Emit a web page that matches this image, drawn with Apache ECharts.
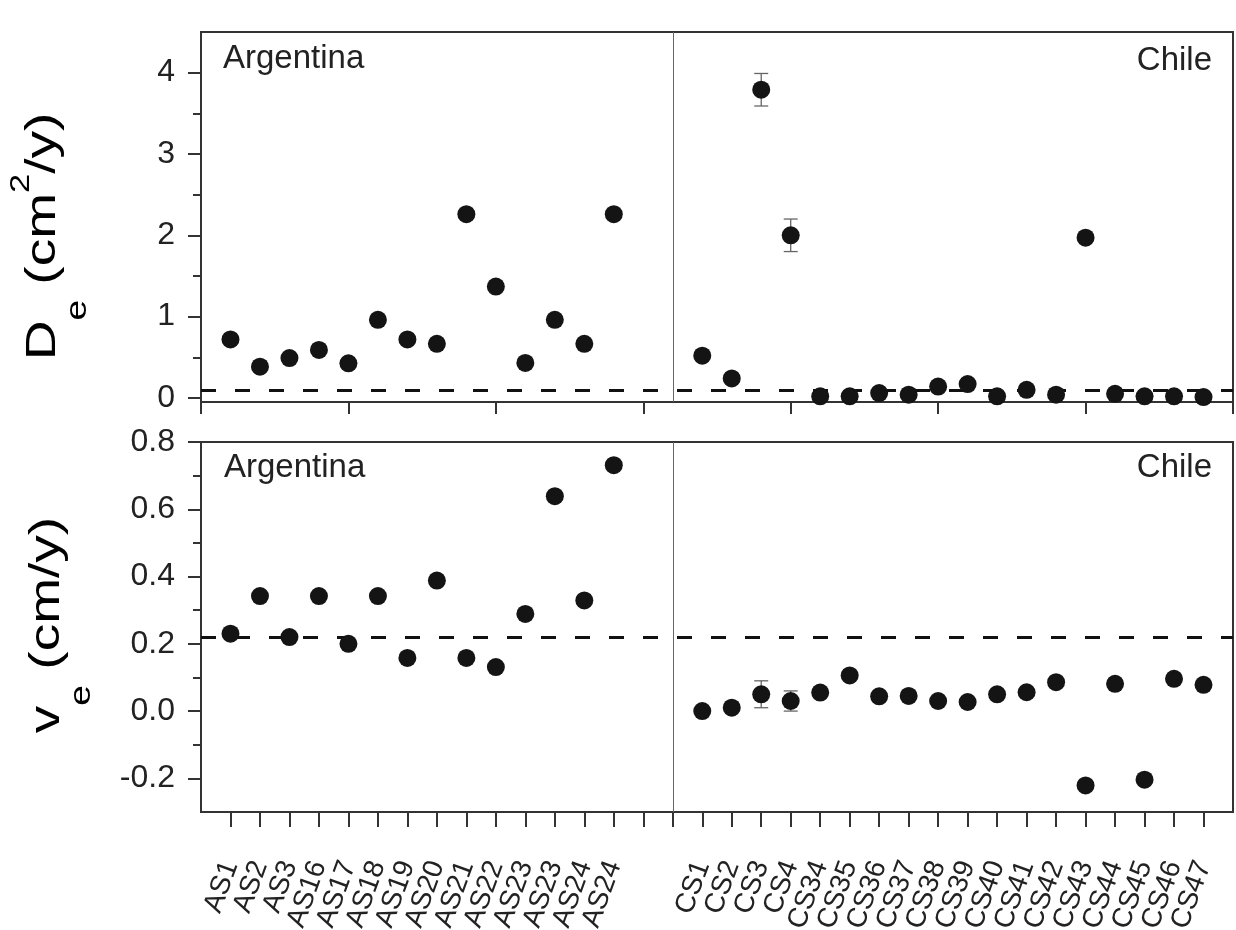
<!DOCTYPE html>
<html><head><meta charset="utf-8">
<script src="https://cdn.jsdelivr.net/npm/echarts@6/dist/echarts.min.js"></script>
<style>html,body{margin:0;padding:0;background:#fff}#c{width:1236px;height:930px}</style>
</head><body><div id="c"></div>
<script>
// ---- data ----
const asLabels = ['AS1','AS2','AS3','AS16','AS17','AS18','AS19','AS20','AS21','AS22','AS23','AS23','AS24','AS24'];
const csLabels = ['CS1','CS2','CS3','CS4','CS34','CS35','CS36','CS37','CS38','CS39','CS40','CS41','CS42','CS43','CS44','CS45','CS46','CS47'];
const asDe = [0.72,0.385,0.49,0.59,0.425,0.96,0.72,0.665,2.26,1.37,0.43,0.96,0.665,2.26];
const csDe = [0.52,0.24,3.79,2.0,0.02,0.02,0.06,0.04,0.14,0.17,0.02,0.10,0.04,1.97,0.05,0.02,0.02,0.01];
const csDeErr = [0,0,0.2,0.2,0,0,0,0,0,0,0,0,0,0,0,0,0,0];
const asVe = [0.23,0.342,0.22,0.342,0.20,0.342,0.158,0.388,0.158,0.131,0.289,0.639,0.329,0.731];
const csVe = [0.0,0.01,0.05,0.03,0.055,0.106,0.044,0.045,0.03,0.027,0.05,0.056,0.086,-0.221,0.081,-0.204,0.096,0.078];
const csVeErr = [0,0,0.04,0.03,0,0,0,0,0,0,0,0,0,0,0,0,0,0];
const deRef = 0.1, veRef = 0.22;
const deTicks = [0,1,2,3,4], deMinor = [0.5,1.5,2.5,3.5];
const veTicks = [-0.2,0,0.2,0.4,0.6,0.8], veMinor = [-0.1,0.1,0.3,0.5,0.7];
const deRange = [-0.05, 4.5], veRange = [-0.3, 0.8];
const asStart = 1, csStart = 17, dividerPos = 16, xMax = 35;

// ---- derived ----
const asPos = asLabels.map((_, i) => asStart + i);
const csPos = csLabels.map((_, i) => csStart + i);
const posLabel = {};
asPos.forEach((p, i) => posLabel[p] = asLabels[i]);
csPos.forEach((p, i) => posLabel[p] = csLabels[i]);

const FONT = '"Liberation Sans", Arial, sans-serif';
const TXT = '#222';
const AX = '#333';

function pts(pos, vals) { return pos.map((p, i) => [p, vals[i]]); }
function errs(pos, vals, e) {
  const out = [];
  pos.forEach((p, i) => { if (e[i] > 0) out.push([p, vals[i], e[i]]); });
  return out;
}
function errRender(params, api) {
  const x = api.value(0), y = api.value(1), e = api.value(2);
  const a = api.coord([x, y + e]), b = api.coord([x, y - e]);
  const hw = 7, st = {stroke: '#666', lineWidth: 1.3};
  return {type: 'group', children: [
    {type: 'line', shape: {x1: a[0], y1: a[1], x2: b[0], y2: b[1]}, style: st},
    {type: 'line', shape: {x1: a[0]-hw, y1: a[1], x2: a[0]+hw, y2: a[1]}, style: st},
    {type: 'line', shape: {x1: b[0]-hw, y1: b[1], x2: b[0]+hw, y2: b[1]}, style: st}
  ]};
}
function yMajor(grid, range, ticks, fmt) {
  return {
    type: 'value', gridIndex: grid, position: 'left', min: range[0], max: range[1],
    axisLine: {show: true, onZero: false, lineStyle: {color: AX, width: 2}},
    axisTick: {show: true, inside: false, length: 13, lineStyle: {color: AX, width: 2}, customValues: ticks},
    axisLabel: {show: true, customValues: ticks, formatter: fmt, margin: 26,
      showMinLabel: true, showMaxLabel: true,
      fontSize: 32, fontFamily: FONT, color: TXT},
    splitLine: {show: false}
  };
}
function yMinor(grid, range, ticks) {
  return {
    type: 'value', gridIndex: grid, position: 'left', min: range[0], max: range[1],
    axisLine: {show: false, onZero: false},
    axisTick: {show: true, inside: false, length: 8, lineStyle: {color: AX, width: 2}, customValues: ticks},
    axisLabel: {show: false}, splitLine: {show: false}
  };
}
function markLines(refVal) {
  return {
    silent: true, symbol: ['none', 'none'], label: {show: false}, animation: false,
    data: [
      {yAxis: refVal, lineStyle: {type: [15, 19], width: 3, color: '#111'}},
      {xAxis: dividerPos, lineStyle: {type: 'solid', width: 1, color: '#666'}}
    ]
  };
}
const dot = {symbol: 'circle', symbolSize: 18, itemStyle: {color: '#141414', opacity: 1}};

const richMain = {fontSize: 43, fontFamily: FONT, color: TXT, lineHeight: 43, verticalAlign: 'bottom', padding: [0, 0, 28, 0]};
const richSub = {fontSize: 29, fontFamily: FONT, color: TXT, lineHeight: 29, verticalAlign: 'bottom', padding: [0, 0, 0, 0]};
const richSup = {fontSize: 27, fontFamily: FONT, color: TXT, lineHeight: 27, verticalAlign: 'bottom', padding: [0, 0, 58, 0]};

const option = {
  animation: false,
  backgroundColor: '#fff',
  grid: [
    {left: 201, right: 3, top: 32, height: 370, show: true, borderColor: AX, borderWidth: 2, outerBoundsMode: 'none'},
    {left: 201, right: 3, top: 442, height: 370, show: true, borderColor: AX, borderWidth: 2, outerBoundsMode: 'none'}
  ],
  xAxis: [
    {type: 'value', gridIndex: 0, min: 0, max: xMax, interval: 5,
      axisLine: {show: true, onZero: false, lineStyle: {color: AX, width: 2}},
      axisTick: {show: true, inside: false, length: 12, lineStyle: {color: AX, width: 2}},
      axisLabel: {show: false}, splitLine: {show: false}},
    {type: 'value', gridIndex: 1, min: 0, max: xMax, interval: 1,
      axisLine: {show: true, onZero: false, lineStyle: {color: AX, width: 2}},
      axisTick: {show: true, inside: false, length: 15, lineStyle: {color: AX, width: 2}},
      axisLabel: {show: true, formatter: v => posLabel[v] || '',
        showMinLabel: false, showMaxLabel: false, hideOverlap: false,
        rotate: 70, margin: 50, fontSize: 28, fontFamily: FONT, color: TXT},
      splitLine: {show: false}}
  ],
  yAxis: [
    yMajor(0, deRange, deTicks, v => String(Math.round(v))),
    yMinor(0, deRange, deMinor),
    yMajor(1, veRange, veTicks, v => (Math.abs(v) < 1e-9 ? 0 : v).toFixed(1)),
    yMinor(1, veRange, veMinor)
  ],
  series: [
    Object.assign({type: 'scatter', name: 'De', xAxisIndex: 0, yAxisIndex: 0, z: 5,
      data: pts(asPos, asDe).concat(pts(csPos, csDe)), markLine: markLines(deRef)}, dot),
    {type: 'custom', xAxisIndex: 0, yAxisIndex: 0, z: 3, renderItem: errRender,
      data: errs(csPos, csDe, csDeErr), encode: {x: 0, y: 1}},
    Object.assign({type: 'scatter', name: 've', xAxisIndex: 1, yAxisIndex: 2, z: 5,
      data: pts(asPos, asVe).concat(pts(csPos, csVe)), markLine: markLines(veRef)}, dot),
    {type: 'custom', xAxisIndex: 1, yAxisIndex: 2, z: 3, renderItem: errRender,
      data: errs(csPos, csVe, csVeErr), encode: {x: 0, y: 1}}
  ],
  graphic: [
    {type: 'text', x: 223, y: 59, style: {text: 'Argentina', font: '33px ' + FONT, fill: TXT, align: 'left', verticalAlign: 'middle'}},
    {type: 'text', x: 1212, y: 61, style: {text: 'Chile', font: '33px ' + FONT, fill: TXT, align: 'right', verticalAlign: 'middle'}},
    {type: 'text', x: 224, y: 468, style: {text: 'Argentina', font: '33px ' + FONT, fill: TXT, align: 'left', verticalAlign: 'middle'}},
    {type: 'text', x: 1212, y: 468, style: {text: 'Chile', font: '33px ' + FONT, fill: TXT, align: 'right', verticalAlign: 'middle'}},
    {type: 'text', x: 49.6, y: 236.5, rotation: Math.PI / 2, scaleX: 1.28,
      style: {text: '{m|D}{s|e}{m| (cm}{p|2}{m|/y)}', rich: {m: richMain, s: richSub, p: richSup},
        align: 'center', verticalAlign: 'top'}},
    {type: 'text', x: 53.6, y: 625, rotation: Math.PI / 2, scaleX: 1.28,
      style: {text: '{m|v}{s|e}{m| (cm/y)}', rich: {m: richMain, s: richSub},
        align: 'center', verticalAlign: 'top'}}
  ]
};
const chart = echarts.init(document.getElementById('c'), null, {renderer: 'canvas'});
chart.setOption(option);
</script></body></html>
